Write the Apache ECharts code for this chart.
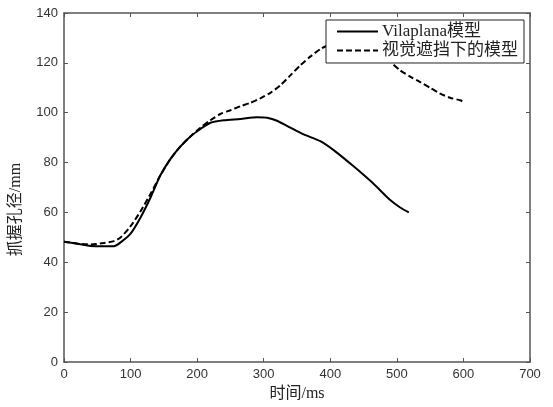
<!DOCTYPE html>
<html>
<head>
<meta charset="utf-8">
<script src="https://cdn.jsdelivr.net/npm/echarts@6/dist/echarts.min.js"></script>
<style>
  html, body { margin: 0; padding: 0; background: #fff; }
  #chart { width: 553px; height: 407px; }
</style>
</head>
<body>
<div id="chart"></div>
<script>
// 抓握孔径随时间变化
const seriesNames = ['Vilaplana模型', '视觉遮挡下的模型'];

const vilaTime = [0, 20, 40, 60, 75, 85, 100, 115, 130, 145, 160, 175, 190, 205, 220, 240, 265, 290, 305, 320, 340, 360, 385, 405, 435, 465, 490, 505, 518];
const vilaAperture = [48.3, 47.5, 46.6, 46.5, 46.5, 48, 51.5, 58, 66, 75, 81.5, 86.5, 90.5, 93.5, 96, 97, 97.5, 98.2, 98, 96.8, 94, 91.3, 88.6, 85, 78.5, 71.5, 65, 62, 60];

const occTime = [0, 20, 40, 60, 75, 85, 100, 115, 130, 145, 160, 175, 190, 205, 220, 235, 250, 265, 280, 295, 310, 325, 340, 355, 370, 385, 400, 420, 440, 460, 480, 490, 505, 520, 535, 550, 565, 580, 595, 599];
const occAperture = [48.3, 47.5, 47.2, 47.8, 48.5, 50, 54.5, 60.5, 67.5, 75, 81.5, 86.5, 90.5, 94, 97, 99.5, 101, 102.6, 104, 105.8, 108, 111, 115, 119, 122.5, 125.5, 127.5, 129, 129, 127, 123, 120.5, 117, 114.5, 112.3, 110, 107.7, 106, 105, 104.5];

const xTicks = [0, 100, 200, 300, 400, 500, 600, 700];
const yTicks = [0, 20, 40, 60, 80, 100, 120, 140];

const pairs = (xs, ys) => xs.map((x, i) => [x, ys[i]]);

const axisColor = '#555';
const labelStyle = { color: '#333', fontSize: 13, fontFamily: 'Liberation Sans, Arial, sans-serif' };
const nameStyle = { color: '#222', fontSize: 16, fontFamily: 'Liberation Serif, Noto Sans CJK SC, serif' };

const axisBase = {
    type: 'value',
    axisLine: { show: true, onZero: false, lineStyle: { color: axisColor, width: 1.5 } },
    axisTick: { show: true, inside: true, length: 4, lineStyle: { color: axisColor } },
    splitLine: { show: false }
};

const chart = echarts.init(document.getElementById('chart'));

chart.setOption({
    animation: false,
    backgroundColor: '#fff',
    grid: { left: 63, right: 23, top: 13, bottom: 38 },
    legend: {
        right: 29,
        top: 20,
        orient: 'vertical',
        data: seriesNames,
        backgroundColor: '#fff',
        borderColor: '#222',
        borderWidth: 1,
        padding: [3, 6, 4, 10],
        itemGap: 2,
        itemWidth: 41,
        itemHeight: 16,
        itemStyle: { opacity: 0 },
        textStyle: { color: '#222', fontSize: 17, padding: [0, 0, 0, -1], fontFamily: 'Liberation Serif, Noto Sans CJK SC, serif' }
    },
    xAxis: [Object.assign({}, axisBase, {
        min: xTicks[0],
        max: xTicks[xTicks.length - 1],
        interval: 100,
        position: 'bottom',
        name: '时间/ms',
        nameLocation: 'middle',
        nameGap: 19,
        nameTextStyle: nameStyle,
        axisLabel: Object.assign({ margin: 6 }, labelStyle)
    }), Object.assign({}, axisBase, {
        min: xTicks[0],
        max: xTicks[xTicks.length - 1],
        interval: 100,
        position: 'top',
        axisLabel: { show: false }
    })],
    yAxis: [Object.assign({}, axisBase, {
        min: yTicks[0],
        max: yTicks[yTicks.length - 1],
        interval: 20,
        position: 'left',
        name: '抓握孔径/mm',
        nameLocation: 'middle',
        nameGap: 40,
        nameTextStyle: Object.assign({ padding: [0, 0, 0, -44] }, nameStyle),
        axisLabel: Object.assign({ margin: 6 }, labelStyle)
    }), Object.assign({}, axisBase, {
        min: yTicks[0],
        max: yTicks[yTicks.length - 1],
        interval: 20,
        position: 'right',
        axisLabel: { show: false }
    })],
    series: [{
        name: seriesNames[0],
        type: 'line',
        smooth: 0.25,
        symbol: 'none',
        data: pairs(vilaTime, vilaAperture),
        lineStyle: { color: '#000', width: 2, type: 'solid' },
        itemStyle: { color: '#000' }
    }, {
        name: seriesNames[1],
        type: 'line',
        smooth: 0.25,
        symbol: 'none',
        data: pairs(occTime, occAperture),
        lineStyle: { color: '#000', width: 2, type: [6, 3] },
        itemStyle: { color: '#000' }
    }, {
        // 占位系列，使上、右坐标轴显示
        type: 'line',
        xAxisIndex: 1,
        yAxisIndex: 1,
        data: [],
        silent: true
    }]
});
</script>
</body>
</html>
